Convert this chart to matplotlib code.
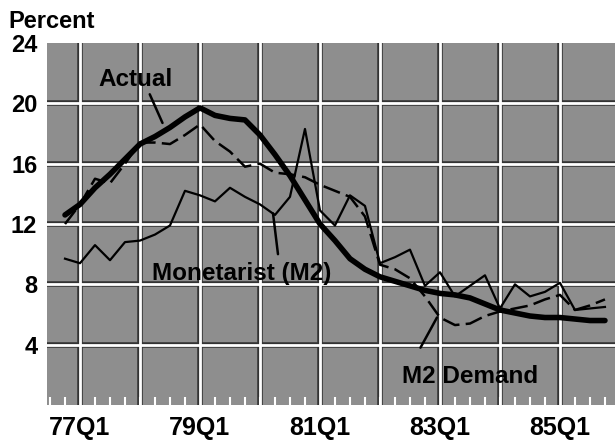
import numpy as np
import matplotlib.pyplot as plt

plt.rcParams['font.family'] = ['Liberation Sans', 'DejaVu Sans']
plt.rcParams['hatch.color'] = '#505050'
plt.rcParams['hatch.linewidth'] = 0.7

# quarters, 0 = 77Q1 (series start in 76Q4)
quarters = list(range(-1, 36))

actual = [12.6, 13.3, 14.4, 15.3, 16.3, 17.3, 17.8, 18.4, 19.1, 19.7,
          19.2, 19.0, 18.9, 17.9, 16.6, 15.2, 13.6, 12.0, 10.9, 9.7,
          9.0, 8.5, 8.2, 7.9, 7.6, 7.4, 7.3, 7.1, 6.7, 6.3,
          6.1, 5.9, 5.8, 5.8, 5.7, 5.6, 5.6]

m2_demand = [12.0, 13.3, 15.0, 14.7, 16.0, 17.4, 17.4, 17.3, 17.9, 18.6,
             17.5, 16.8, 15.8, 16.0, 15.4, 15.3, 15.1, 14.6, 14.2, 13.8,
             12.5, 9.3, 9.0, 8.4, 7.2, 5.8, 5.3, 5.4, 5.9, 6.2,
             6.4, 6.6, 7.0, 7.3, 6.3, 6.6, 7.0]

monetarist = [9.7, 9.4, 10.6, 9.6, 10.8, 10.9, 11.3, 11.9, 14.2, 13.9,
              13.5, 14.4, 13.8, 13.3, 12.6, 13.8, 18.3, 12.9, 11.9, 13.9,
              13.2, 9.4, 9.8, 10.3, 7.9, 8.8, 7.2, 7.9, 8.6, 6.4,
              8.0, 7.2, 7.5, 8.1, 6.3, 6.4, 6.5]

yticks = [4, 8, 12, 16, 20, 24]
xtick_pos = [0, 8, 16, 24, 32]
xtick_lab = ['77Q1', '79Q1', '81Q1', '83Q1', '85Q1']

fig = plt.figure(figsize=(6.15, 4.41), dpi=100)
ax = fig.add_axes([47/615, 36/441, 1 - 47/615, 362/441])
ax.set_facecolor('#8e8e8e')
ax.patch.set_hatch('......')

ax.set_xlim(-2.2, 35.67)
ax.set_ylim(0, 24)

# grid: dark edge under a white line gives the boxed cells
for v in yticks[:-1]:
    ax.axhline(v, color='#333333', lw=4.0, zorder=1)
    ax.axhline(v, color='white', lw=2.0, zorder=1.1)
for q in range(-4, 36, 4):
    ax.axvline(q, color='#333333', lw=4.0, zorder=1)
    ax.axvline(q, color='white', lw=2.0, zorder=1.1)

ax.plot(quarters, monetarist, color='black', lw=1.6, zorder=3)
ax.plot(quarters, m2_demand, color='black', lw=1.8, dashes=(7, 2.5), zorder=3)
ax.plot(quarters, actual, color='black', lw=4.0, solid_capstyle='round', zorder=4)

for s in ax.spines.values():
    s.set_visible(False)

ax.set_yticks(yticks)
ax.set_yticklabels([str(v) for v in yticks], fontsize=17, fontweight='bold')
ax.set_xticks(xtick_pos)
ax.set_xticklabels(xtick_lab, fontsize=18, fontweight='bold')
ax.set_xticks(range(-2, 36), minor=True)
ax.tick_params(axis='y', length=0, pad=7)
ax.tick_params(axis='x', which='major', length=0, pad=8)
ax.tick_params(axis='x', which='minor', direction='in', color='white',
               length=6, width=1.5)

fig.text(8/615, 1 - 21/441, 'Percent', fontsize=17, fontweight='bold',
         va='center', ha='left')

# labels and pointer lines
lab = dict(fontsize=17.5, fontweight='bold', ha='center', va='center', zorder=5)
ptr = dict(arrowstyle='-', lw=1.8, color='black', shrinkA=0, shrinkB=0)

ax.text(3.7, 21.55, 'Actual', **lab)
ax.annotate('', xy=(5.5, 18.7), xytext=(4.65, 20.6), arrowprops=ptr)

ax.text(10.8, 8.75, 'Monetarist (M2)', **lab)
ax.annotate('', xy=(12.87, 12.7), xytext=(13.2, 10.0), arrowprops=ptr)

ax.text(26.0, 1.92, 'M2 Demand', **lab)
ax.annotate('', xy=(23.8, 5.8), xytext=(22.7, 3.8), arrowprops=ptr)

fig.savefig('out.png', dpi=100)
